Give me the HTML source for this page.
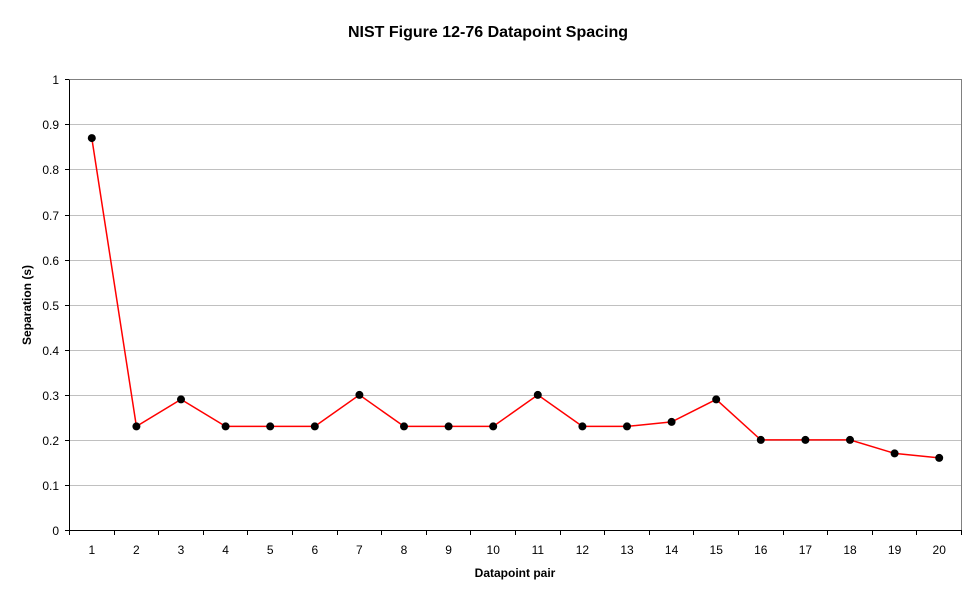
<!DOCTYPE html>
<html><head><style>body{margin:0;background:#fff}svg{display:block}</style></head><body>
<svg width="977" height="600" xmlns="http://www.w3.org/2000/svg" font-family="Liberation Sans, Arial, sans-serif">
<rect width="977" height="600" fill="#fff"/>
<text x="488" y="37" font-size="16" font-weight="bold" text-anchor="middle">NIST Figure 12-76 Datapoint Spacing</text>
<g stroke="#c0c0c0" stroke-width="1">
<line x1="69.5" x2="961.5" y1="485.5" y2="485.5"/><line x1="69.5" x2="961.5" y1="440.5" y2="440.5"/>
<line x1="69.5" x2="961.5" y1="395.5" y2="395.5"/><line x1="69.5" x2="961.5" y1="350.5" y2="350.5"/>
<line x1="69.5" x2="961.5" y1="305.5" y2="305.5"/><line x1="69.5" x2="961.5" y1="260.5" y2="260.5"/>
<line x1="69.5" x2="961.5" y1="215.5" y2="215.5"/><line x1="69.5" x2="961.5" y1="169.5" y2="169.5"/>
<line x1="69.5" x2="961.5" y1="124.5" y2="124.5"/>
</g>
<polyline points="69.5,79.5 961.5,79.5 961.5,530.5" fill="none" stroke="#808080"/>
<g stroke="#000" stroke-width="1">
<line x1="69.5" x2="69.5" y1="79.5" y2="530.5"/><line x1="69.5" x2="961.5" y1="530.5" y2="530.5"/>
<path d="M65 530.5h4M65 485.5h4M65 440.5h4M65 395.5h4M65 350.5h4M65 305.5h4M65 260.5h4M65 215.5h4M65 169.5h4M65 124.5h4M65 79.5h4"/>
<path d="M69.5 530v5M114.5 530v5M158.5 530v5M203.5 530v5M247.5 530v5M292.5 530v5M337.5 530v5M381.5 530v5M426.5 530v5M470.5 530v5M515.5 530v5M560.5 530v5M604.5 530v5M649.5 530v5M693.5 530v5M738.5 530v5M783.5 530v5M827.5 530v5M872.5 530v5M916.5 530v5M961.5 530v5"/>
</g>
<g font-size="12" text-anchor="end">
<text x="59" y="535">0</text><text x="59" y="490">0.1</text><text x="59" y="445">0.2</text><text x="59" y="400">0.3</text><text x="59" y="355">0.4</text><text x="59" y="310">0.5</text><text x="59" y="265">0.6</text><text x="59" y="220">0.7</text><text x="59" y="174">0.8</text><text x="59" y="129">0.9</text><text x="59" y="84">1</text>
</g>
<g font-size="12" text-anchor="middle">
<text x="91.8" y="554">1</text><text x="136.4" y="554">2</text><text x="181" y="554">3</text><text x="225.6" y="554">4</text><text x="270.2" y="554">5</text><text x="314.8" y="554">6</text><text x="359.4" y="554">7</text><text x="404" y="554">8</text><text x="448.6" y="554">9</text><text x="493.2" y="554">10</text><text x="537.8" y="554">11</text><text x="582.4" y="554">12</text><text x="627" y="554">13</text><text x="671.6" y="554">14</text><text x="716.2" y="554">15</text><text x="760.8" y="554">16</text><text x="805.4" y="554">17</text><text x="850" y="554">18</text><text x="894.6" y="554">19</text><text x="939.2" y="554">20</text>
</g>
<text x="515" y="577" font-size="12" font-weight="bold" text-anchor="middle">Datapoint pair</text>
<text transform="translate(31,305) rotate(-90)" font-size="12" font-weight="bold" text-anchor="middle">Separation (s)</text>
<polyline fill="none" stroke="#ff0000" stroke-width="1.5" points="91.8,138.1 136.4,426.4 181,399.4 225.6,426.4 270.2,426.4 314.8,426.4 359.4,394.9 404,426.4 448.6,426.4 493.2,426.4 537.8,394.9 582.4,426.4 627,426.4 671.6,421.9 716.2,399.4 760.8,439.9 805.4,439.9 850,439.9 894.6,453.4 939.2,457.9"/>
<g fill="#000">
<circle cx="91.8" cy="138.1" r="4"/><circle cx="136.4" cy="426.4" r="4"/><circle cx="181" cy="399.4" r="4"/><circle cx="225.6" cy="426.4" r="4"/><circle cx="270.2" cy="426.4" r="4"/><circle cx="314.8" cy="426.4" r="4"/><circle cx="359.4" cy="394.9" r="4"/><circle cx="404" cy="426.4" r="4"/><circle cx="448.6" cy="426.4" r="4"/><circle cx="493.2" cy="426.4" r="4"/><circle cx="537.8" cy="394.9" r="4"/><circle cx="582.4" cy="426.4" r="4"/><circle cx="627" cy="426.4" r="4"/><circle cx="671.6" cy="421.9" r="4"/><circle cx="716.2" cy="399.4" r="4"/><circle cx="760.8" cy="439.9" r="4"/><circle cx="805.4" cy="439.9" r="4"/><circle cx="850" cy="439.9" r="4"/><circle cx="894.6" cy="453.4" r="4"/><circle cx="939.2" cy="457.9" r="4"/>
</g>
</svg>
</body></html>
